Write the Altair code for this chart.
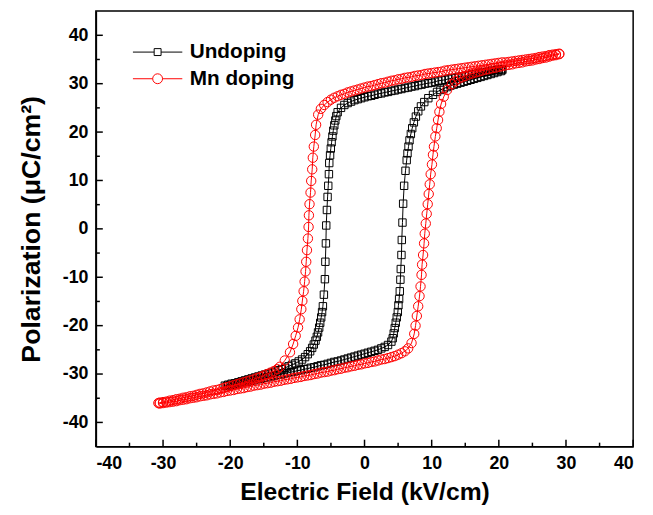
import altair as alt
import pandas as pd

# ---------------- Undoping (black squares) ----------------
und_down_E = [20.5, 20.0, 19.5, 19.0, 18.5, 18.0, 17.5, 17.0, 16.5, 16.0,
              15.5, 15.0, 14.5, 14.0, 13.5, 13.0, 12.5, 12.0, 11.5, 11.0,
              10.5, 10.0, 9.5, 9.0, 8.5, 8.0, 7.5, 7.0, 6.5, 6.0,
              5.5, 5.0, 4.5, 4.0, 3.5, 3.0, 2.5, 2.0, 1.5, 1.0,
              0.5, 0.0, -0.5, -1.0, -1.5, -2.0, -2.5, -3.0, -3.5, -4.0,
              -4.2, -4.35, -4.5, -4.65, -4.78, -4.9, -5.02, -5.13, -5.25, -5.3,
              -5.4, -5.5, -5.6, -5.7, -5.75, -5.83, -5.9, -6.05, -6.2, -6.32,
              -6.45, -6.6, -6.75, -6.92, -7.1, -7.3, -7.55, -7.8, -8.1, -8.45,
              -8.85, -9.3,
              -9.8, -10.3, -10.8, -11.3, -11.8, -12.3, -12.8, -13.3, -13.8, -14.3,
              -14.8, -15.3, -15.8, -16.3, -16.8, -17.3, -17.8, -18.3, -18.8, -19.3,
              -19.8, -20.3, -20.8]
und_down_P = [33.0, 32.9, 32.8, 32.7, 32.5, 32.4, 32.3, 32.2, 32.0, 31.9,
              31.8, 31.6, 31.5, 31.4, 31.2, 31.1, 31.0, 30.8, 30.7, 30.6,
              30.4, 30.2, 30.1, 30.0, 29.8, 29.7, 29.5, 29.4, 29.2, 29.1,
              28.9, 28.8, 28.6, 28.5, 28.3, 28.2, 28.0, 27.9, 27.7, 27.5,
              27.4, 27.2, 27.0, 26.8, 26.6, 26.3, 26.0, 25.6, 25.0, 24.1,
              23.3, 22.4, 21.4, 20.3, 19.1, 17.9, 16.6, 15.2, 13.6, 11.3,
              8.9, 6.6, 3.9, 0.7, -3.0, -6.8, -10.4, -13.6, -16.0, -17.2,
              -18.3, -19.4, -20.4, -21.4, -22.3, -23.1, -23.9, -24.6, -25.3, -25.9,
              -26.5, -27.0,
              -27.4, -27.8, -28.1, -28.4, -28.7, -29.0, -29.2, -29.5, -29.7, -29.9,
              -30.1, -30.3, -30.5, -30.7, -30.9, -31.1, -31.3, -31.5, -31.7, -31.9,
              -32.0, -32.2, -32.4]
und_up_E = [-20.5, -20.0, -19.5, -19.0, -18.5, -18.0, -17.5, -17.0, -16.5, -16.0,
            -15.5, -15.0, -14.5, -14.0, -13.5, -13.0, -12.5, -12.0, -11.5, -11.0,
            -10.5, -10.0, -9.5, -9.0, -8.5, -8.0, -7.5, -7.0, -6.5, -6.0,
            -5.5, -5.0, -4.5, -4.0, -3.5, -3.0, -2.5, -2.0, -1.5, -1.0,
            -0.5, 0.0, 0.5, 1.0, 1.5, 2.0, 2.5, 3.0, 3.5, 4.0,
            4.2, 4.35, 4.5, 4.65, 4.8, 4.96, 5.05, 5.15, 5.25, 5.34,
            5.4, 5.5, 5.55, 5.65, 5.75, 5.9, 6.1, 6.28, 6.4, 6.55,
            6.7, 6.9, 7.1, 7.35, 7.65, 8.0, 8.4, 8.9, 9.5, 10.2,
            10.8, 11.3, 11.8, 12.3, 12.8, 13.3, 13.8, 14.3, 14.8, 15.3,
            15.8, 16.3, 16.8, 17.3, 17.8, 18.3, 18.8, 19.3, 19.8, 20.3,
            20.5]
und_up_P = [-32.5, -32.3, -32.2, -32.0, -31.9, -31.7, -31.6, -31.4, -31.3, -31.1,
            -31.0, -30.8, -30.7, -30.5, -30.4, -30.2, -30.1, -29.9, -29.8, -29.6,
            -29.5, -29.3, -29.2, -29.0, -28.9, -28.7, -28.6, -28.4, -28.2, -28.1,
            -27.9, -27.7, -27.5, -27.4, -27.2, -27.0, -26.8, -26.6, -26.4, -26.2,
            -26.0, -25.8, -25.6, -25.4, -25.2, -25.0, -24.7, -24.4, -24.0, -23.3,
            -22.6, -21.6, -20.5, -19.4, -18.3, -17.2, -15.8, -14.5, -12.9, -10.5,
            -8.3, -5.4, -2.3, 1.3, 5.2, 8.9, 12.0, 14.2, 15.6, 17.0,
            18.3, 19.6, 20.8, 22.0, 23.2, 24.3, 25.3, 26.2, 27.0, 27.7,
            28.3, 28.7, 29.0, 29.3, 29.6, 29.8, 30.0, 30.2, 30.4, 30.6,
            30.8, 31.0, 31.2, 31.4, 31.6, 31.8, 32.0, 32.2, 32.4, 32.6,
            32.8]

# ---------------- Mn doping (red circles) ----------------
mn_down_E = [29.0, 28.5, 28.0, 27.5, 27.0, 26.5, 26.0, 25.5, 25.0, 24.5,
             24.0, 23.5, 23.0, 22.5, 22.0, 21.5, 21.0, 20.5, 20.0, 19.5,
             19.0, 18.5, 18.0, 17.5, 17.0, 16.5, 16.0, 15.5, 15.0, 14.5,
             14.0, 13.5, 13.0, 12.5, 12.0, 11.5, 11.0, 10.5, 10.0, 9.5,
             9.0, 8.5, 8.0, 7.5, 7.0, 6.5, 6.0, 5.5, 5.0, 4.5,
             4.0, 3.5, 3.0, 2.5, 2.0, 1.5, 1.0, 0.5, 0.0, -0.5,
             -1.0, -1.5, -2.0, -2.5, -3.0, -3.5, -4.0, -4.5, -5.0, -5.5,
             -6.0, -6.5, -6.9,
             -7.21, -7.35, -7.55, -7.70, -7.79, -7.94, -8.04, -8.19, -8.28, -8.33,
             -8.43, -8.57, -8.68, -8.78, -8.92, -9.07, -9.26, -9.41, -9.66, -9.9,
             -10.25, -10.63, -11.1, -11.87, -12.6,
             -13.0, -13.5, -14.0, -14.5, -15.0, -15.5, -16.0, -16.5, -17.0, -17.5,
             -18.0, -18.5, -19.0, -19.5, -20.0, -20.5, -21.0, -21.5, -22.0, -22.5,
             -23.0, -23.5, -24.0, -24.5, -25.0, -25.5, -26.0, -26.5, -27.0, -27.5,
             -28.0, -28.5, -29.0, -29.5, -30.0, -30.5, -30.7]
mn_down_P = [36.2, 36.1, 36.0, 35.9, 35.7, 35.6, 35.5, 35.3, 35.2, 35.1,
             35.0, 34.9, 34.8, 34.7, 34.6, 34.5, 34.4, 34.4, 34.3, 34.2,
             34.1, 34.0, 33.9, 33.8, 33.7, 33.6, 33.5, 33.4, 33.3, 33.2,
             33.1, 33.0, 32.9, 32.8, 32.7, 32.5, 32.4, 32.3, 32.2, 32.1,
             32.0, 31.8, 31.7, 31.6, 31.4, 31.3, 31.2, 31.0, 30.9, 30.7,
             30.6, 30.4, 30.2, 30.1, 29.9, 29.7, 29.5, 29.4, 29.2, 29.0,
             28.8, 28.6, 28.4, 28.2, 27.9, 27.7, 27.4, 27.1, 26.7, 26.2,
             25.6, 24.8, 23.6,
             21.5, 19.4, 17.0, 14.7, 12.3, 9.9, 7.5, 5.1, 2.8, 0.4,
             -2.0, -4.4, -6.8, -8.8, -10.9, -12.9, -14.9, -16.6, -18.7, -20.4,
             -22.1, -23.8, -25.5, -27.2, -28.5,
             -29.0, -29.4, -29.7, -30.0, -30.3, -30.6, -30.8, -31.1, -31.3, -31.5,
             -31.7, -31.9, -32.1, -32.3, -32.5, -32.7, -32.9, -33.1, -33.3, -33.4,
             -33.6, -33.8, -34.0, -34.1, -34.3, -34.5, -34.6, -34.8, -34.9, -35.1,
             -35.2, -35.4, -35.5, -35.7, -35.8, -35.9, -36.0]
mn_up_E = [-30.5, -30.0, -29.5, -29.0, -28.5, -28.0, -27.5, -27.0, -26.5, -26.0,
           -25.5, -25.0, -24.5, -24.0, -23.5, -23.0, -22.5, -22.0, -21.5, -21.0,
           -20.5, -20.0, -19.5, -19.0, -18.5, -18.0, -17.5, -17.0, -16.5, -16.0,
           -15.5, -15.0, -14.5, -14.0, -13.5, -13.0, -12.5, -12.0, -11.5, -11.0,
           -10.5, -10.0, -9.5, -9.0, -8.5, -8.0, -7.5, -7.0, -6.5, -6.0,
           -5.5, -5.0, -4.5, -4.0, -3.5, -3.0, -2.5, -2.0, -1.5, -1.0,
           -0.5, 0.0, 0.5, 1.0, 1.5, 2.0, 2.5, 3.0, 3.5, 4.0,
           4.5, 5.0, 5.5, 6.0, 6.5, 7.0,
           7.40, 7.60, 7.79, 7.99, 8.19, 8.34, 8.49, 8.57, 8.72, 8.87,
           8.97, 9.12, 9.26, 9.41, 9.56, 9.71, 9.85, 10.04, 10.19, 10.34,
           10.55, 10.75, 10.95, 11.15, 11.4, 11.8, 12.3, 13.0, 13.5,
           14.0, 14.5, 15.0, 15.5, 16.0, 16.5, 17.0, 17.5, 18.0, 18.5,
           19.0, 19.5, 20.0, 20.5, 21.0, 21.5, 22.0, 22.5, 23.0, 23.5,
           24.0, 24.5, 25.0, 25.5, 26.0, 26.5, 27.0, 27.5, 28.0, 28.5,
           29.0]
mn_up_P = [-36.1, -36.0, -35.9, -35.8, -35.7, -35.6, -35.4, -35.3, -35.2, -35.0,
           -34.9, -34.8, -34.6, -34.5, -34.4, -34.2, -34.1, -34.0, -33.8, -33.7,
           -33.5, -33.4, -33.3, -33.1, -33.0, -32.9, -32.7, -32.6, -32.4, -32.3,
           -32.2, -32.0, -31.9, -31.8, -31.6, -31.5, -31.4, -31.2, -31.1, -31.0,
           -30.8, -30.7, -30.6, -30.4, -30.3, -30.2, -30.0, -29.9, -29.7, -29.6,
           -29.5, -29.3, -29.2, -29.0, -28.9, -28.7, -28.6, -28.4, -28.3, -28.1,
           -28.0, -27.8, -27.7, -27.5, -27.4, -27.2, -27.0, -26.9, -26.7, -26.5,
           -26.3, -26.0, -25.7, -25.3, -24.7, -23.6,
           -21.7, -20.0, -18.0, -16.0, -13.9, -11.9, -9.5, -7.4, -5.4, -3.0,
           -1.0, 1.1, 3.1, 5.1, 7.2, 9.2, 11.3, 13.3, 15.3, 17.0,
           19.1, 20.8, 22.5, 24.2, 25.8, 27.3, 28.7, 29.9, 30.5,
           31.0, 31.3, 31.6, 31.9, 32.1, 32.3, 32.5, 32.7, 32.9, 33.0,
           33.2, 33.3, 33.5, 33.6, 33.8, 33.9, 34.0, 34.2, 34.3, 34.4,
           34.6, 34.7, 34.8, 35.0, 35.1, 35.3, 35.4, 35.6, 35.8, 35.9,
           36.1]

series_names = ["Undoping", "Mn doping"]
series_colors = ["black", "red"]

# axis tick positions
x_major_ticks = [-40, -30, -20, -10, 0, 10, 20, 30, 40]
x_minor_ticks = [-35, -25, -15, -5, 5, 15, 25, 35]
y_major_ticks = [-40, -30, -20, -10, 0, 10, 20, 30, 40]
y_minor_ticks = [-35, -25, -15, -5, 5, 15, 25, 35]

und_E = und_down_E + und_up_E
und_P = und_down_P + und_up_P
mn_E = mn_down_E + mn_up_E
mn_P = mn_down_P + mn_up_P

df = pd.concat([
    pd.DataFrame({"series": series_names[0], "idx": range(len(und_E)), "E": und_E, "P": und_P}),
    pd.DataFrame({"series": series_names[1], "idx": range(len(mn_E)), "E": mn_E, "P": mn_P}),
], ignore_index=True)

FONT = "Liberation Sans"
PLOT_W, PLOT_H = 544, 441
MAJOR_LEN, MINOR_LEN = 7, 4
label_expr = "replace(datum.label, '\u2212', '-')"
x_scale = alt.Scale(domain=[-40, 40], nice=False, zero=False)
y_scale = alt.Scale(domain=[-45, 45], nice=False, zero=False)

x_axis = alt.Axis(
    title="Electric Field (kV/cm)", values=x_major_ticks, labelExpr=label_expr,
    ticks=False, grid=False, domainColor="black", domainWidth=1.5,
    labelPadding=8, titlePadding=8, titleFontSize=25)
y_axis = alt.Axis(
    title="Polarization (μC/cm²)", values=y_major_ticks, labelExpr=label_expr,
    ticks=False, grid=False, domainColor="black", domainWidth=1.5,
    labelPadding=8, titlePadding=17, titleFontSize=27)

x_main = alt.X("E:Q", scale=x_scale, axis=x_axis)
y_main = alt.Y("P:Q", scale=y_scale, axis=y_axis)

color_scale = alt.Scale(domain=series_names, range=series_colors)

sq_path = "M-5,0L-0.7,0M0.7,0L5,0M-0.7,-0.7L0.7,-0.7L0.7,0.7L-0.7,0.7Z"
ci_path = "M-5,0L-1,0M1,0L5,0M1,0A1,1,0,1,1,-1,0A1,1,0,1,1,1,0Z"

leg = alt.Legend(
    title=None, orient="none", legendX=52, legendY=31,
    labelFont=FONT, labelFontWeight="bold", labelFontSize=21, labelColor="black",
    symbolSize=100, symbolStrokeWidth=1, labelOffset=22, rowPadding=5, padding=0,
    symbolOpacity=1,
)

und = alt.Chart(df).transform_filter(alt.datum.series == series_names[0])
mn = alt.Chart(df).transform_filter(alt.datum.series == series_names[1])

black_line = und.mark_line(color="black", strokeWidth=1).encode(x=x_main, y=y_main, order="idx:Q")
black_pts = und.mark_point(shape="square", filled=False, color="black", size=56,
                           strokeWidth=1, opacity=1).encode(x=x_main, y=y_main)
red_line = mn.mark_line(color="red", strokeWidth=1).encode(x=x_main, y=y_main, order="idx:Q")
red_pts = mn.mark_point(shape="circle", filled=False, color="red", size=90,
                        strokeWidth=1, opacity=1).encode(x=x_main, y=y_main)

legend_layer = alt.Chart(df).mark_point(filled=False, opacity=0).encode(
    x=x_main, y=y_main,
    color=alt.Color("series:N", scale=color_scale, legend=leg),
    shape=alt.Shape("series:N", scale=alt.Scale(domain=series_names, range=[sq_path, ci_path]), legend=leg),
)

# inward-pointing axis ticks
def x_tick_layer(vals, length):
    return alt.Chart(pd.DataFrame({"E": vals})).mark_rule(color="black", strokeWidth=1.5).encode(
        x=x_main, y=alt.value(PLOT_H), y2=alt.value(PLOT_H - length))

def y_tick_layer(vals, length):
    return alt.Chart(pd.DataFrame({"P": vals})).mark_rule(color="black", strokeWidth=1.5).encode(
        y=y_main, x=alt.value(0), x2=alt.value(length))

ticks = [x_tick_layer(x_major_ticks, MAJOR_LEN), x_tick_layer(x_minor_ticks, MINOR_LEN),
         y_tick_layer(y_major_ticks, MAJOR_LEN), y_tick_layer(y_minor_ticks, MINOR_LEN)]

chart = alt.layer(black_line, black_pts, red_line, red_pts, legend_layer, *ticks).properties(
    width=PLOT_W, height=PLOT_H,
    autosize=alt.AutoSizeParams(type="none"),
    padding={"left": 89, "top": 0, "right": 12, "bottom": 58},
).configure_view(stroke="black", strokeWidth=1.5).configure_axis(
    labelFont=FONT, labelFontWeight="bold", labelFontSize=18, labelColor="black",
    titleFont=FONT, titleFontWeight="bold", titleColor="black",
)

chart.save("out.html", embed_options={"renderer": "svg", "actions": False})
